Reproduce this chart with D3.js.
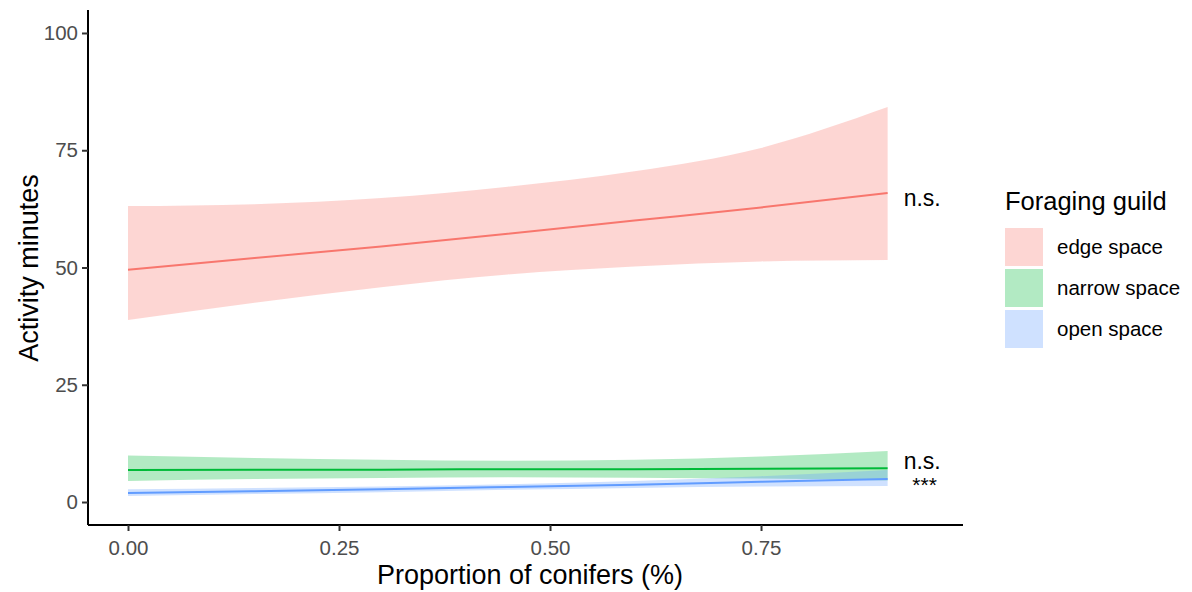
<!DOCTYPE html>
<html>
<head>
<meta charset="utf-8">
<script src="https://cdn.jsdelivr.net/npm/d3@7"></script>
<style>
  body { margin: 0; background: #fff; }
  text { font-family: Arial, "Liberation Sans", sans-serif; }
</style>
</head>
<body>
<svg id="chart" width="1192" height="592"></svg>
<script>
const guilds = ['edge space', 'narrow space', 'open space'];
const colours = ['#F8766D', '#00BA38', '#619CFF'];

// proportion of conifers where the fits were read
const conifers = [0, 0.15, 0.3, 0.45, 0.6, 0.75, 0.9];

const edgeFit = [49.5, 52.0, 54.5, 57.2, 60.0, 62.8, 65.9];
const edgeUpper = [63.1, 63.5, 64.8, 67.2, 70.5, 75.5, 84.2];
const edgeLower = [38.8, 42.5, 45.8, 48.5, 50.2, 51.3, 51.6];

const narrowFit = [6.8, 6.9, 6.9, 7.0, 7.0, 7.1, 7.2];
const narrowUpper = [9.9, 9.4, 9.0, 8.8, 9.0, 9.7, 10.9];
const narrowLower = [4.5, 4.9, 5.1, 5.3, 5.2, 5.0, 4.6];

const openFit = [1.9, 2.3, 2.7, 3.2, 3.7, 4.3, 4.9];
const openUpper = [2.7, 3.0, 3.3, 3.8, 4.5, 5.5, 6.8];
const openLower = [1.3, 1.7, 2.1, 2.6, 3.0, 3.3, 3.4];

const signif = ['n.s.', 'n.s.', '***'];

const xTicks = [0, 0.25, 0.5, 0.75];
const yTicks = [0, 25, 50, 75, 100];

const series = [
    { fit: edgeFit, upper: edgeUpper, lower: edgeLower },
    { fit: narrowFit, upper: narrowUpper, lower: narrowLower },
    { fit: openFit, upper: openUpper, lower: openLower }
];

const svg = d3.select('#chart');
const plotLeft = 88, plotRight = 963, plotTop = 10, plotBottom = 525;

const x = d3.scaleLinear().domain([-0.0474, 0.9893]).range([plotLeft, plotRight]);
const y = d3.scaleLinear().domain([-4.9, 104.9]).range([plotBottom, plotTop]);

const area = d3.area()
    .x((d, i) => x(conifers[i]))
    .y0(d => y(d[1]))
    .y1(d => y(d[0]))
    .curve(d3.curveMonotoneX);
const line = d3.line()
    .x((d, i) => x(conifers[i]))
    .y(d => y(d))
    .curve(d3.curveMonotoneX);

const plot = svg.append('g');
series.forEach((s, k) => {
    plot.append('path')
        .datum(s.upper.map((u, i) => [u, s.lower[i]]))
        .attr('d', area)
        .attr('fill', colours[k])
        .attr('fill-opacity', 0.3);
});
series.forEach((s, k) => {
    plot.append('path')
        .datum(s.fit)
        .attr('d', line)
        .attr('fill', 'none')
        .attr('stroke', colours[k])
        .attr('stroke-width', 2);
});

// significance labels at the end of each line
const labelX = x(0.9) + 16;
plot.append('text').attr('x', labelX).attr('y', y(edgeFit[6]) + 13)
    .attr('font-size', 23).attr('fill', '#000').text(signif[0]);
plot.append('text').attr('x', labelX).attr('y', y(narrowFit[6]) + 1)
    .attr('font-size', 23).attr('fill', '#000').text(signif[1]);
plot.append('text').attr('x', labelX + 21).attr('y', y(openFit[6]) + 13)
    .attr('font-size', 21).attr('text-anchor', 'middle').attr('fill', '#000').text(signif[2]);

// axes
const xAxis = svg.append('g')
    .attr('transform', `translate(0,${plotBottom})`)
    .call(d3.axisBottom(x).tickValues(xTicks).tickFormat(d3.format('.2f')).tickSize(6).tickPadding(9));
const yAxis = svg.append('g')
    .attr('transform', `translate(${plotLeft},0)`)
    .call(d3.axisLeft(y).tickValues(yTicks).tickSize(6).tickPadding(4));

[xAxis, yAxis].forEach(a => {
    a.select('.domain').attr('stroke', '#000').attr('stroke-width', 2);
    a.selectAll('.tick line').attr('stroke', '#333').attr('stroke-width', 2);
    a.selectAll('.tick text').attr('font-size', 20.5).attr('fill', '#4D4D4D')
        .attr('font-family', 'Arial, "Liberation Sans", sans-serif');
});
xAxis.select('.domain').attr('d', `M${plotLeft},0H${plotRight}`);
yAxis.select('.domain').attr('d', `M0,${plotTop}V${plotBottom}`);

svg.append('text')
    .attr('x', 530).attr('y', 584)
    .attr('text-anchor', 'middle').attr('font-size', 27)
    .text('Proportion of conifers (%)');
svg.append('text')
    .attr('transform', `translate(38,268) rotate(-90)`)
    .attr('text-anchor', 'middle').attr('font-size', 27)
    .text('Activity minutes');

// legend
const legend = svg.append('g').attr('transform', 'translate(1005,0)');
legend.append('text').attr('x', 0).attr('y', 210).attr('font-size', 25.5).text('Foraging guild');
guilds.forEach((g, k) => {
    legend.append('rect')
        .attr('x', 0).attr('y', 228 + k * 41)
        .attr('width', 38).attr('height', 38)
        .attr('fill', colours[k]).attr('fill-opacity', 0.3);
    legend.append('text')
        .attr('x', 52).attr('y', 228 + k * 41 + 26)
        .attr('font-size', 20.5).text(g);
});
</script>
</body>
</html>
